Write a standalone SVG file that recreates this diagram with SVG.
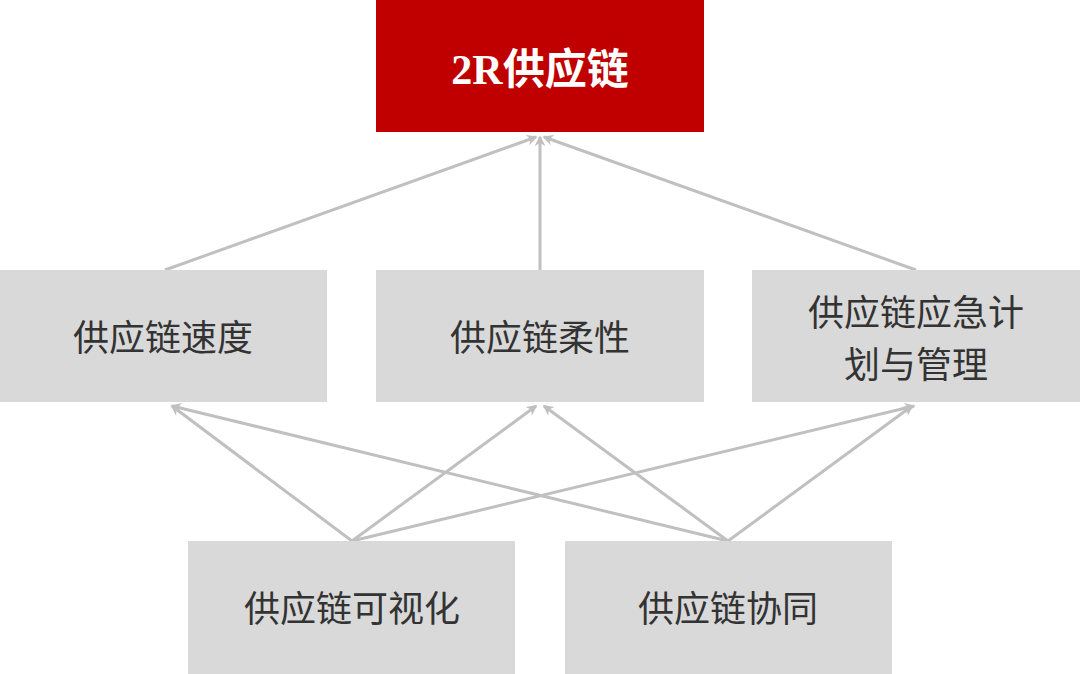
<svg xmlns="http://www.w3.org/2000/svg" width="1080" height="674" viewBox="0 0 1080 674">
<style>
.b{fill:#D9D9D9}
.t{font-family:"Noto Sans CJK SC",sans-serif;font-size:36px;fill:#333;text-anchor:middle}
.c{stroke:#C0C0C0;stroke-width:3;fill:none;marker-end:url(#a)}
</style>
<defs><marker id="a" viewBox="0 0 10 10" refX="8" refY="5" markerWidth="6" markerHeight="6" orient="auto" markerUnits="userSpaceOnUse" style="overflow:visible"><path d="M0,0 L10,5 L0,10 L3,5 Z" fill="#C0C0C0" transform="scale(1.8) translate(-4,-2.2)"/></marker></defs>
<rect width="1080" height="674" fill="#fff"/>
<g id="connectors">
<line class="c" x1="165" y1="270" x2="536" y2="137"/>
<line class="c" x1="540" y1="270" x2="540" y2="137"/>
<line class="c" x1="916" y1="270" x2="544" y2="137"/>
<line class="c" x1="352" y1="541" x2="172" y2="406"/>
<line class="c" x1="352" y1="541" x2="536" y2="406"/>
<line class="c" x1="352" y1="541" x2="914" y2="406"/>
<line class="c" x1="728" y1="541" x2="172" y2="406"/>
<line class="c" x1="728" y1="541" x2="544" y2="406"/>
<line class="c" x1="728" y1="541" x2="912" y2="406"/>
</g>
<g id="top"><rect x="376" y="0" width="328" height="132" fill="#C00000"/>
<text x="540" y="84" text-anchor="middle" fill="#fff" font-size="42" font-weight="bold" font-family="'Liberation Serif','Noto Sans CJK SC',serif">2R供应链</text></g>
<g id="speed"><rect class="b" x="0" y="270" width="327" height="132"/><text class="t" x="163" y="351">供应链速度</text></g>
<g id="flex"><rect class="b" x="376" y="270" width="328" height="132"/><text class="t" x="540" y="351">供应链柔性</text></g>
<g id="emerg"><rect class="b" x="752" y="270" width="328" height="132"/><text class="t" x="916" y="326">供应链应急计</text><text class="t" x="916" y="378">划与管理</text></g>
<g id="vis"><rect class="b" x="188" y="541" width="327" height="133"/><text class="t" x="352" y="622">供应链可视化</text></g>
<g id="collab"><rect class="b" x="565" y="541" width="327" height="133"/><text class="t" x="728" y="622">供应链协同</text></g>
</svg>
